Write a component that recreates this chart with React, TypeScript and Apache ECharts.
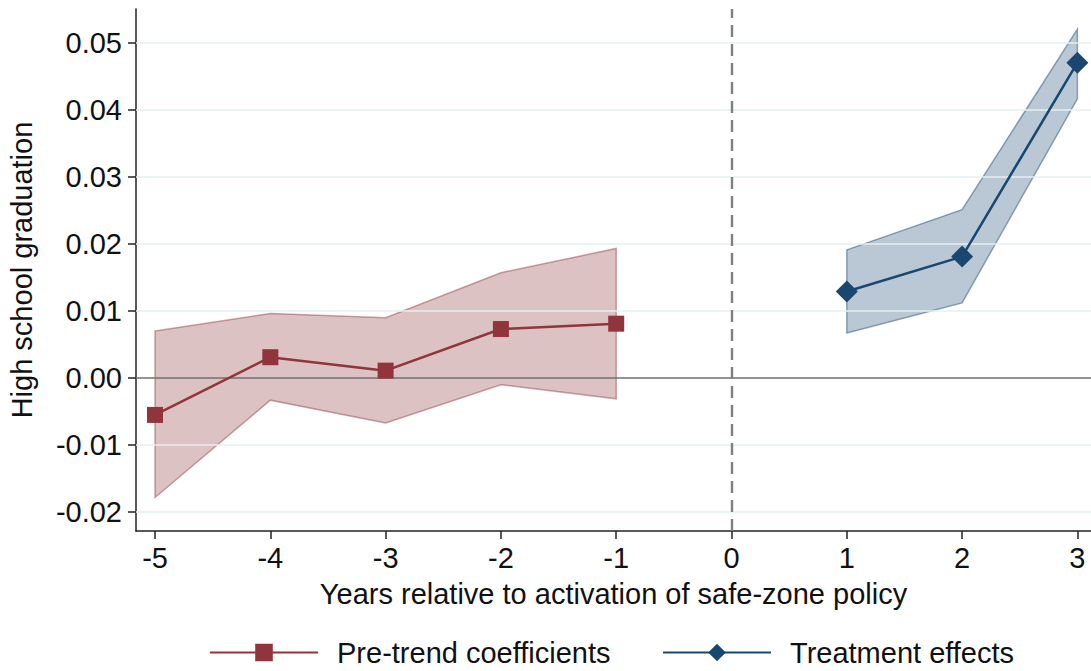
import React, { useEffect, useRef } from 'react';
import * as echarts from 'echarts';

const preYears = [-5, -4, -3, -2, -1];
const preCoef = [-0.0055, 0.0031, 0.0011, 0.0073, 0.0081];
const preLow = [-0.0178, -0.0033, -0.0067, -0.0010, -0.0031];
const preHigh = [0.0070, 0.0096, 0.0090, 0.0157, 0.0193];

const postYears = [1, 2, 3];
const postCoef = [0.0129, 0.0181, 0.0470];
const postLow = [0.0067, 0.0112, 0.0416];
const postHigh = [0.0191, 0.0251, 0.0520];

const xTicks = [-5, -4, -3, -2, -1, 0, 1, 2, 3];
const yTicks = [-0.02, -0.01, 0.0, 0.01, 0.02, 0.03, 0.04, 0.05];

const xTitle = 'Years relative to activation of safe-zone policy';
const yTitle = 'High school graduation';
const preName = 'Pre-trend coefficients';
const postName = 'Treatment effects';

const RED = '#90353B';
const NAVY = '#1A476F';
const FONT = '"Liberation Sans", Arial, Helvetica, sans-serif';
const FS = 29;

function bandSeries(xs: number[], lo: number[], hi: number[], fill: string, stroke: string, name: string) {
  return {
    type: 'custom',
    name,
    z: 2,
    silent: true,
    data: xs.map((x, i) => [x, lo[i], hi[i]]),
    encode: { x: 0, y: [1, 2] },
    renderItem: (params: any, api: any) => {
      if (params.dataIndex !== 0) return null;
      const up = xs.map((x, i) => api.coord([x, hi[i]]));
      const dn = xs.map((x, i) => api.coord([x, lo[i]])).reverse();
      return {
        type: 'polygon',
        shape: { points: [...up, ...dn] },
        style: { fill, stroke, lineWidth: 1.5 },
      };
    },
  };
}

export default function App() {
  const ref = useRef<HTMLDivElement>(null);
  useEffect(() => {
    if (!ref.current) return;
    const chart = echarts.init(ref.current, null, { renderer: 'svg' });
    const gridLines = yTicks
      .filter((v) => v !== 0)
      .map((v) => ({ yAxis: v, lineStyle: { color: '#E6EFF1', width: 1.5, type: 'solid' } }));
    const legendText = { fontSize: FS, color: '#111', fontFamily: FONT, padding: [0, 0, 0, 14] };
    chart.setOption({
      animation: false,
      backgroundColor: '#ffffff',
      textStyle: { fontFamily: FONT },
      grid: { left: 136, right: 0, top: 9, bottom: 140, containLabel: false, outerBoundsMode: 'none' },
      legend: [
        {
          data: [preName],
          left: 204,
          top: 633,
          itemWidth: 108,
          itemHeight: 22,
          textStyle: legendText,
        },
        {
          data: [postName],
          left: 657,
          top: 633,
          itemWidth: 108,
          itemHeight: 22,
          textStyle: legendText,
        },
      ],
      xAxis: {
        type: 'value',
        min: -5.165,
        max: 3.118,
        name: xTitle,
        nameLocation: 'middle',
        nameGap: 48,
        nameTextStyle: { fontSize: FS, color: '#111', fontFamily: FONT },
        axisLine: { show: true, onZero: false, lineStyle: { color: '#222', width: 1.5 } },
        axisTick: { show: true, customValues: xTicks, length: 8, lineStyle: { color: '#222', width: 1.5 } },
        axisLabel: {
          customValues: xTicks,
          fontSize: FS,
          color: '#111',
          margin: 12,
          formatter: (v: number) => String(Math.round(v)),
        },
        splitLine: { show: false },
      },
      yAxis: {
        type: 'value',
        min: -0.0228,
        max: 0.055,
        name: yTitle,
        nameLocation: 'middle',
        nameGap: 100,
        nameRotate: 90,
        nameTextStyle: { fontSize: FS, color: '#111', fontFamily: FONT },
        axisLine: { show: true, onZero: false, lineStyle: { color: '#222', width: 1.5 } },
        axisTick: { show: true, customValues: yTicks, length: 8, lineStyle: { color: '#222', width: 1.5 } },
        axisLabel: {
          customValues: yTicks,
          fontSize: FS,
          color: '#111',
          margin: 14,
          formatter: (v: number) => v.toFixed(2),
        },
        splitLine: { show: false },
      },
      series: [
        {
          type: 'line',
          name: 'reference lines',
          z: 1,
          silent: true,
          symbol: 'none',
          data: [[0, 0]],
          lineStyle: { opacity: 0 },
          markLine: {
            silent: true,
            symbol: 'none',
            label: { show: false },
            animation: false,
            data: [
              ...gridLines,
              { yAxis: 0, lineStyle: { color: '#707070', width: 1.5, type: 'solid' } },
              { xAxis: 0, lineStyle: { color: '#808080', width: 2.4, type: [12, 7] } },
            ],
          },
        },
        bandSeries(preYears, preLow, preHigh, 'rgba(144,53,59,0.3)', 'rgba(144,53,59,0.45)', 'pre CI'),
        bandSeries(postYears, postLow, postHigh, 'rgba(26,71,111,0.3)', 'rgba(26,71,111,0.45)', 'post CI'),
        {
          type: 'line',
          name: preName,
          z: 5,
          data: preYears.map((x, i) => [x, preCoef[i]]),
          symbol: 'rect',
          symbolSize: 16,
          itemStyle: { color: RED },
          lineStyle: { color: RED, width: 2.5 },
        },
        {
          type: 'line',
          name: postName,
          z: 5,
          data: postYears.map((x, i) => [x, postCoef[i]]),
          symbol: 'diamond',
          symbolSize: 22,
          itemStyle: { color: NAVY },
          lineStyle: { color: NAVY, width: 2.5 },
        },
      ],
    });
    return () => chart.dispose();
  }, []);
  return (
    <div
      ref={ref}
      style={{ position: 'absolute', left: 0, top: 0, width: 1091, height: 671, background: '#fff' }}
    />
  );
}
